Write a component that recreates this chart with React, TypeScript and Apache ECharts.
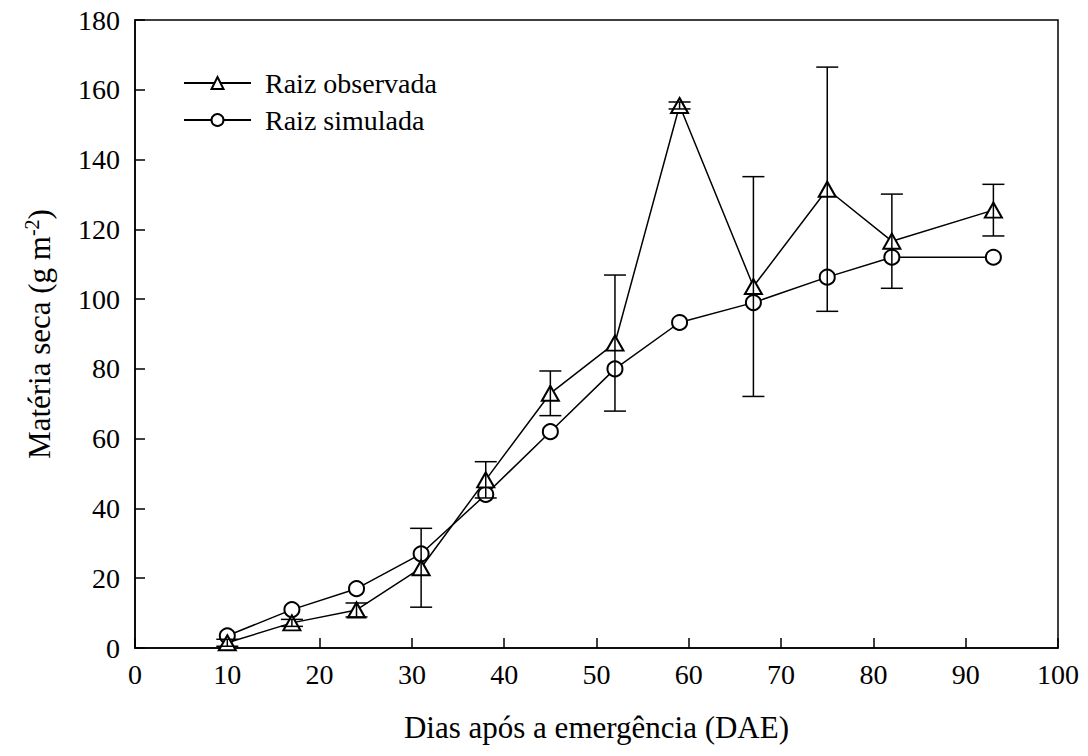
import React, { useEffect, useRef } from "react";
import * as echarts from "echarts";

const days = [10, 17, 24, 31, 38, 45, 52, 59, 67, 75, 82, 93];
const observed = [1.5, 7.2, 10.9, 23, 48.2, 73, 87.4, 155.5, 103.6, 131.5, 116.6, 125.5];
const observedErr = [1, 1, 2, 11.3, 5.2, 6.4, 19.5, 1, 31.5, 35, 13.5, 7.4];
const simulated = [3.5, 11, 17, 27, 44, 62, 80, 93.3, 99, 106.3, 112, 112];
const xTicks = [0, 10, 20, 30, 40, 50, 60, 70, 80, 90, 100];
const yTicks = [0, 20, 40, 60, 80, 100, 120, 140, 160, 180];

const FONT = "Liberation Serif";

export default function App() {
  const ref = useRef<HTMLDivElement>(null);
  useEffect(() => {
    if (!ref.current) return;
    const chart = echarts.init(ref.current, undefined, { renderer: "svg" });
    const errData = days.map((d, i) => [d, observed[i] - observedErr[i], observed[i] + observedErr[i]]);
    chart.setOption({
      animation: false,
      backgroundColor: "#ffffff",
      textStyle: { fontFamily: FONT, color: "#000" },
      grid: {
        left: 135,
        right: 30,
        top: 20,
        bottom: 108,
        show: true,
        borderColor: "#000",
        borderWidth: 1.5,
      },
      legend: {
        orient: "vertical",
        left: 178,
        top: 63,
        itemWidth: 67,
        itemHeight: 15,
        itemGap: 7,
        textStyle: { fontFamily: FONT, fontSize: 28, color: "#000", lineHeight: 30, padding: [0, 0, 0, 9] },
        data: ["Raiz observada", "Raiz simulada"],
      },
      xAxis: {
        type: "value",
        min: 0,
        max: 100,
        interval: 10,
        axisLine: { show: true, lineStyle: { color: "#000", width: 1.5 } },
        axisTick: { show: true, inside: true, length: 10, lineStyle: { color: "#000", width: 1.5 } },
        axisLabel: {
          fontFamily: FONT,
          fontSize: 28,
          color: "#000",
          margin: 12,
          formatter: (v: number) => (xTicks.includes(v) ? String(v) : ""),
        },
        splitLine: { show: false },
        name: "Dias após a emergência (DAE)",
        nameLocation: "middle",
        nameGap: 64,
        nameTextStyle: { fontFamily: FONT, fontSize: 31, color: "#000" },
      },
      yAxis: {
        type: "value",
        min: 0,
        max: 180,
        interval: 20,
        axisLine: { show: true, lineStyle: { color: "#000", width: 1.5 } },
        axisTick: { show: true, inside: true, length: 10, lineStyle: { color: "#000", width: 1.5 } },
        axisLabel: {
          fontFamily: FONT,
          fontSize: 28,
          color: "#000",
          margin: 15,
          formatter: (v: number) => (yTicks.includes(v) ? String(v) : ""),
        },
        splitLine: { show: false },
        name: "{a|Matéria seca (g m}{s|-2}{a|)}",
        nameLocation: "middle",
        nameGap: 79,
        nameRotate: 90,
        nameTextStyle: {
          fontFamily: FONT,
          fontSize: 31,
          color: "#000",
          rich: {
            a: { fontFamily: FONT, fontSize: 31, color: "#000", lineHeight: 34 },
            s: { fontFamily: FONT, fontSize: 20, color: "#000", verticalAlign: "top", lineHeight: 34, padding: [0, 0, 14, 0] },
          },
        },
      },
      series: [
        {
          name: "Raiz simulada",
          type: "line",
          data: days.map((d, i) => [d, simulated[i]]),
          symbol: "emptyCircle",
          symbolSize: 15,
          lineStyle: { color: "#000", width: 1.5 },
          itemStyle: { color: "#000", borderColor: "#000", borderWidth: 1.5 },
          z: 2,
        },
        {
          name: "Raiz observada",
          type: "line",
          data: days.map((d, i) => [d, observed[i]]),
          symbol: "emptyTriangle",
          symbolSize: [17, 15],
          lineStyle: { color: "#000", width: 1.5 },
          itemStyle: { color: "#000", borderColor: "#000", borderWidth: 1.5 },
          z: 3,
        },
        {
          name: "err",
          type: "custom",
          data: errData,
          encode: { x: 0, y: [1, 2] },
          z: 4,
          renderItem: (params: any, api: any) => {
            const x = api.value(0);
            const lo = api.coord([x, api.value(1)]);
            const hi = api.coord([x, api.value(2)]);
            const hw = 11;
            const style = { stroke: "#000", lineWidth: 1.5, fill: "none" };
            return {
              type: "group",
              children: [
                { type: "line", shape: { x1: lo[0], y1: lo[1], x2: hi[0], y2: hi[1] }, style },
                { type: "line", shape: { x1: lo[0] - hw, y1: lo[1], x2: lo[0] + hw, y2: lo[1] }, style },
                { type: "line", shape: { x1: hi[0] - hw, y1: hi[1], x2: hi[0] + hw, y2: hi[1] }, style },
              ],
            };
          },
        },
      ],
    });
    return () => chart.dispose();
  }, []);
  return <div ref={ref} style={{ width: 1088, height: 756, position: "absolute", left: 0, top: 0 }} />;
}
